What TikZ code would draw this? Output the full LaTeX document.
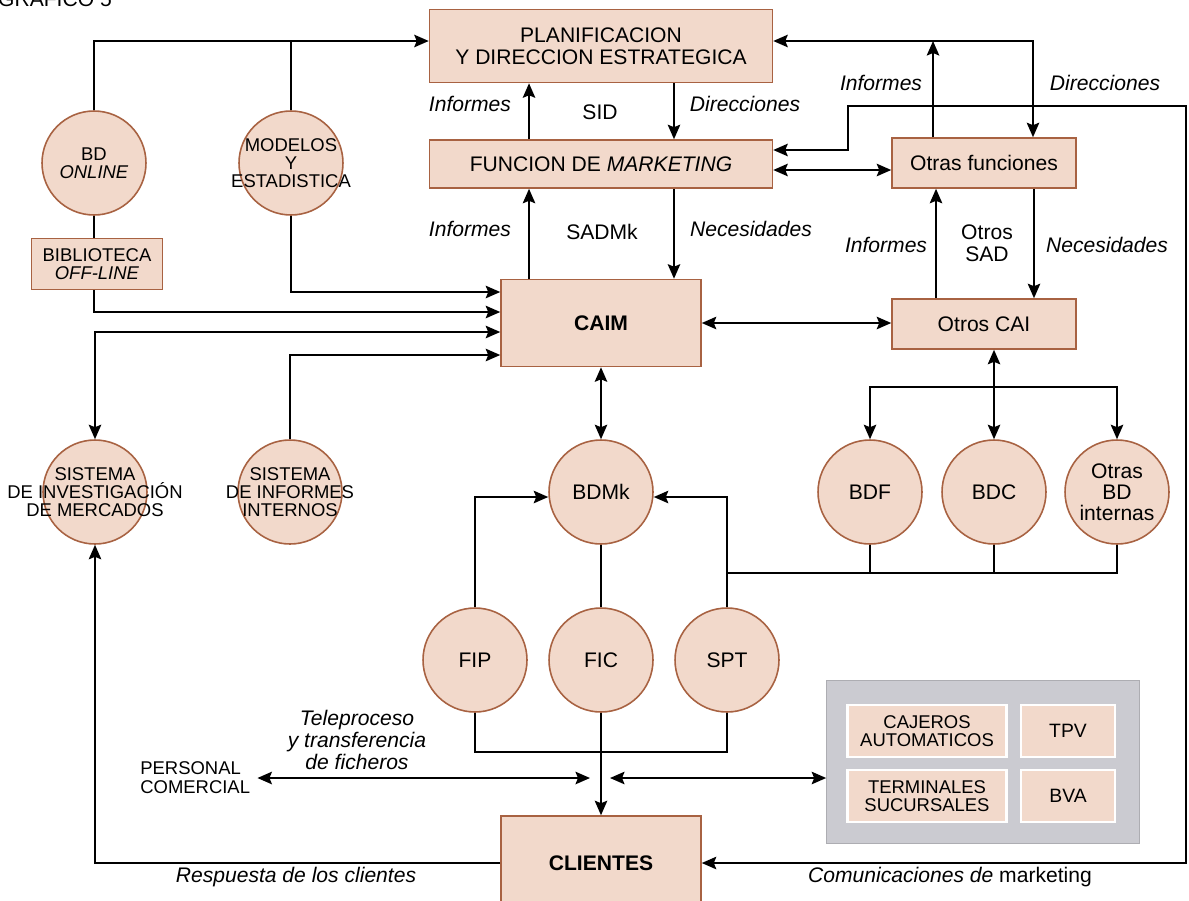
\documentclass[tikz,border=0pt]{standalone}
\usepackage{fontspec}
\setmainfont{Liberation Sans}
\usetikzlibrary{arrows.meta, calc}
\definecolor{peach}{RGB}{242,217,203}
\definecolor{brn}{RGB}{168,98,66}
\definecolor{panel}{RGB}{203,203,209}
\tikzset{
  box/.style={draw=brn, line width=0.9pt, fill=peach, align=center, inner sep=2pt, font=\fontsize{12}{12.5}\selectfont},
  db/.style={circle, draw=brn, line width=0.9pt, fill=peach, minimum size=2.08cm, inner sep=0pt, align=center, font=\fontsize{12}{11.8}\selectfont},
  dbt/.style={align=center, inner sep=0pt, font=\fontsize{10.5}{10.3}\selectfont},
  tbox/.style={draw=white, line width=1.3pt, fill=peach, minimum height=1.04cm, align=center, font=\fontsize{10.5}{10.5}\selectfont},
  wire/.style={line width=1.1pt},
  arr/.style={->, line width=1.1pt},
  dbl/.style={<->, line width=1.1pt},
  lbl/.style={font=\fontsize{12}{12.5}\selectfont\itshape, align=center},
  txt/.style={font=\fontsize{12}{12.5}\selectfont, align=center},
}
\begin{document}
\begin{tikzpicture}[x=0.02cm, y=-0.02cm, >={Stealth[length=2.9mm, width=2.5mm, inset=0.5mm]}]
  \useasboundingbox (0,0) rectangle (1189,900);
  \node[txt, anchor=base east] (graf) at (118,6) {GRAFICO 5};

  % cajas centrales
  \node[box, minimum width=6.86cm, minimum height=1.46cm] (plan) at (601,46) {PLANIFICACION\\Y DIRECCION ESTRATEGICA};
  \node[box, minimum width=6.86cm, minimum height=0.96cm] (mkt) at (601,164) {FUNCION DE \textit{MARKETING}};
  \node[box, minimum width=4cm, minimum height=1.74cm, font=\fontsize{12}{12.5}\selectfont\bfseries] (caim) at (601,323) {CAIM};
  \node[box, minimum width=3.68cm, minimum height=1cm] (otrasf) at (984,163) {Otras funciones};
  \node[box, minimum width=3.68cm, minimum height=1cm] (otroscai) at (984,324) {Otros CAI};
  \node[box, minimum width=4cm, minimum height=1.88cm, font=\fontsize{12}{12.5}\selectfont\bfseries] (clientes) at (601,863) {CLIENTES};

  % lado izquierdo
  \node[db] (bdon) at (94,163) {};
  \node[dbt] (bdont) at (bdon) {BD\\\textit{ONLINE}};
  \node[db] (modelos) at (291,163) {};
  \node[dbt] (modelost) at (modelos) {MODELOS\\Y\\ESTADISTICA};
  \node[box, minimum width=2.62cm, minimum height=1.02cm, font=\fontsize{10.5}{10.5}\selectfont] (bib) at (97,264) {BIBLIOTECA\\\textit{OFF-LINE}};
  \node[db] (sim) at (95,492) {};
  \node[dbt] (simt) at (sim) {SISTEMA\\DE INVESTIGACIÓN\\DE MERCADOS};
  \node[db] (sii) at (290,492) {};
  \node[dbt] (siit) at (sii) {SISTEMA\\DE INFORMES\\INTERNOS};

  % bases de datos
  \node[db] (bdmk) at (601,492) {BDMk};
  \node[db] (bdf) at (870,492) {BDF};
  \node[db] (bdc) at (994,492) {BDC};
  \node[db] (otrasbd) at (1117,492) {Otras\\BD\\internas};
  \node[db] (fip) at (475,660) {FIP};
  \node[db] (fic) at (601,660) {FIC};
  \node[db] (spt) at (727,660) {SPT};

  % terminales
  \node[draw=panel!85!black, fill=panel, minimum width=6.26cm, minimum height=3.26cm] (term) at (983,762) {};
  \node[tbox, minimum width=3.18cm] (caj) at (927,731) {CAJEROS\\AUTOMATICOS};
  \node[tbox, minimum width=1.88cm, font=\fontsize{11}{11}\selectfont] (tpv) at (1068,731) {TPV};
  \node[tbox, minimum width=3.18cm] (tsuc) at (927,796) {TERMINALES\\SUCURSALES};
  \node[tbox, minimum width=1.88cm, font=\fontsize{11}{11}\selectfont] (bva) at (1068,796) {BVA};
  \node[anchor=west, align=left, inner sep=4pt, font=\fontsize{10.5}{10.8}\selectfont] (pers) at (133,778) {PERSONAL\\COMERCIAL};

  % lado izquierdo: conexiones
  \coordinate (ptl) at ($(plan.west)+(0,-5)$);
  \coordinate (ptr) at ($(plan.east)+(0,-5)$);
  \draw[arr] (bdon.north) |- (ptl);
  \draw[wire] (modelos.north) -- (modelos.north |- ptl);
  \draw[wire] (bdon.south) -- (bdon.south |- bib.north);
  \coordinate (c1) at ($(caim.west)+(0,-31)$);
  \coordinate (c2) at ($(caim.west)+(0,-11)$);
  \coordinate (c3) at ($(caim.west)+(0,9)$);
  \coordinate (c4) at ($(caim.west)+(0,32)$);
  \draw[arr] (modelos.south) |- (c1);
  \draw[arr] (bib.south -| bdon.south) |- (c2);
  \draw[dbl] (sim.north) |- (c3);
  \draw[arr] (sii.north) |- (c4);
  \draw[arr] (clientes.west) -| (sim.south);

  % SID y SADMk
  \draw[arr] ([xshift=-1.44cm]mkt.north) -- ([xshift=-1.44cm]plan.south);
  \draw[arr] ([xshift=1.46cm]plan.south) -- ([xshift=1.46cm]mkt.north);
  \draw[arr] ([xshift=-1.44cm]caim.north) -- ([xshift=-1.44cm]mkt.south);
  \draw[arr] ([xshift=1.46cm]mkt.south) -- ([xshift=1.46cm]caim.north);

  % otras funciones
  \draw[dbl] (ptr) -| ([xshift=0.98cm]otrasf.north);
  \coordinate (oi) at ([xshift=-1.02cm]otrasf.north);
  \draw[arr] (oi) -- (oi |- ptr);
  \coordinate (m1) at ($(mkt.east)+(0,-14)$);
  \draw[dbl] ($(mkt.east)+(0,6)$) -- ($(otrasf.west)+(0,7)$);
  \draw[dbl] (clientes.east) -- (1186,863) |- (848,106) |- (m1);
  \coordinate (o1) at ([xshift=-0.96cm]otroscai.north);
  \coordinate (o2) at ([xshift=1cm]otrasf.south);
  \draw[arr] (o1) -- (o1 |- otrasf.south);
  \draw[arr] (o2) -- (o2 |- otroscai.north);
  \draw[dbl] (caim.east) -- (caim.east -| otroscai.west);

  % bases de datos: conexiones
  \draw[dbl] (caim.south) -- (bdmk.north);
  \draw[dbl] (otroscai.south -| bdc.north) -- (bdc.north);
  \coordinate (jh) at (bdc.north |- 0,387);
  \draw[arr] (jh) -| (bdf.north);
  \draw[arr] (jh) -| (otrasbd.north);
  \coordinate (jb) at (spt.north |- 0,573);
  \draw[wire] (otrasbd.south) |- (jb);
  \draw[wire] (bdf.south) -- (bdf.south |- jb);
  \draw[wire] (bdc.south) -- (bdc.south |- jb);
  \draw[arr] (spt.north) |- ($(bdmk.east)+(0,5)$);
  \draw[arr] (fip.north) |- ($(bdmk.west)+(0,5)$);
  \draw[wire] (bdmk.south) -- (fic.north);
  \coordinate (jf) at (fic.south |- 0,752);
  \draw[wire] (fip.south) |- (jf) -| (spt.south);
  \draw[arr] (fic.south) -- (clientes.north);
  \coordinate (tl) at (590,778);
  \coordinate (tr) at (610,778);
  \draw[dbl] (pers.east) -- (tl);
  \draw[dbl] (tr) -- (tr -| term.west);

  % etiquetas
  \node[lbl] (infA) at (470,104) {Informes};
  \node[txt] (sid) at (600,112) {SID};
  \node[lbl] (dirA) at (745,104) {Direcciones};
  \node[lbl] (infB) at (470,229) {Informes};
  \node[txt] (sadmk) at (602,232) {SADMk};
  \node[lbl] (necB) at (751,229) {Necesidades};
  \node[lbl] (infC) at (881,83) {Informes};
  \node[lbl] (dirC) at (1105,83) {Direcciones};
  \node[lbl] (infD) at (886,245) {Informes};
  \node[txt] (otrossad) at (987,243) {Otros\\SAD};
  \node[lbl] (necD) at (1107,245) {Necesidades};
  \node[lbl] (telep) at (357,740) {Teleproceso\\y transferencia\\de ficheros};
  \node[lbl] (resp) at (296,877) {Respuesta de los clientes};
  \node[txt] (comun) at (950,877) {\textit{Comunicaciones de} marketing};
\end{tikzpicture}
\end{document}
